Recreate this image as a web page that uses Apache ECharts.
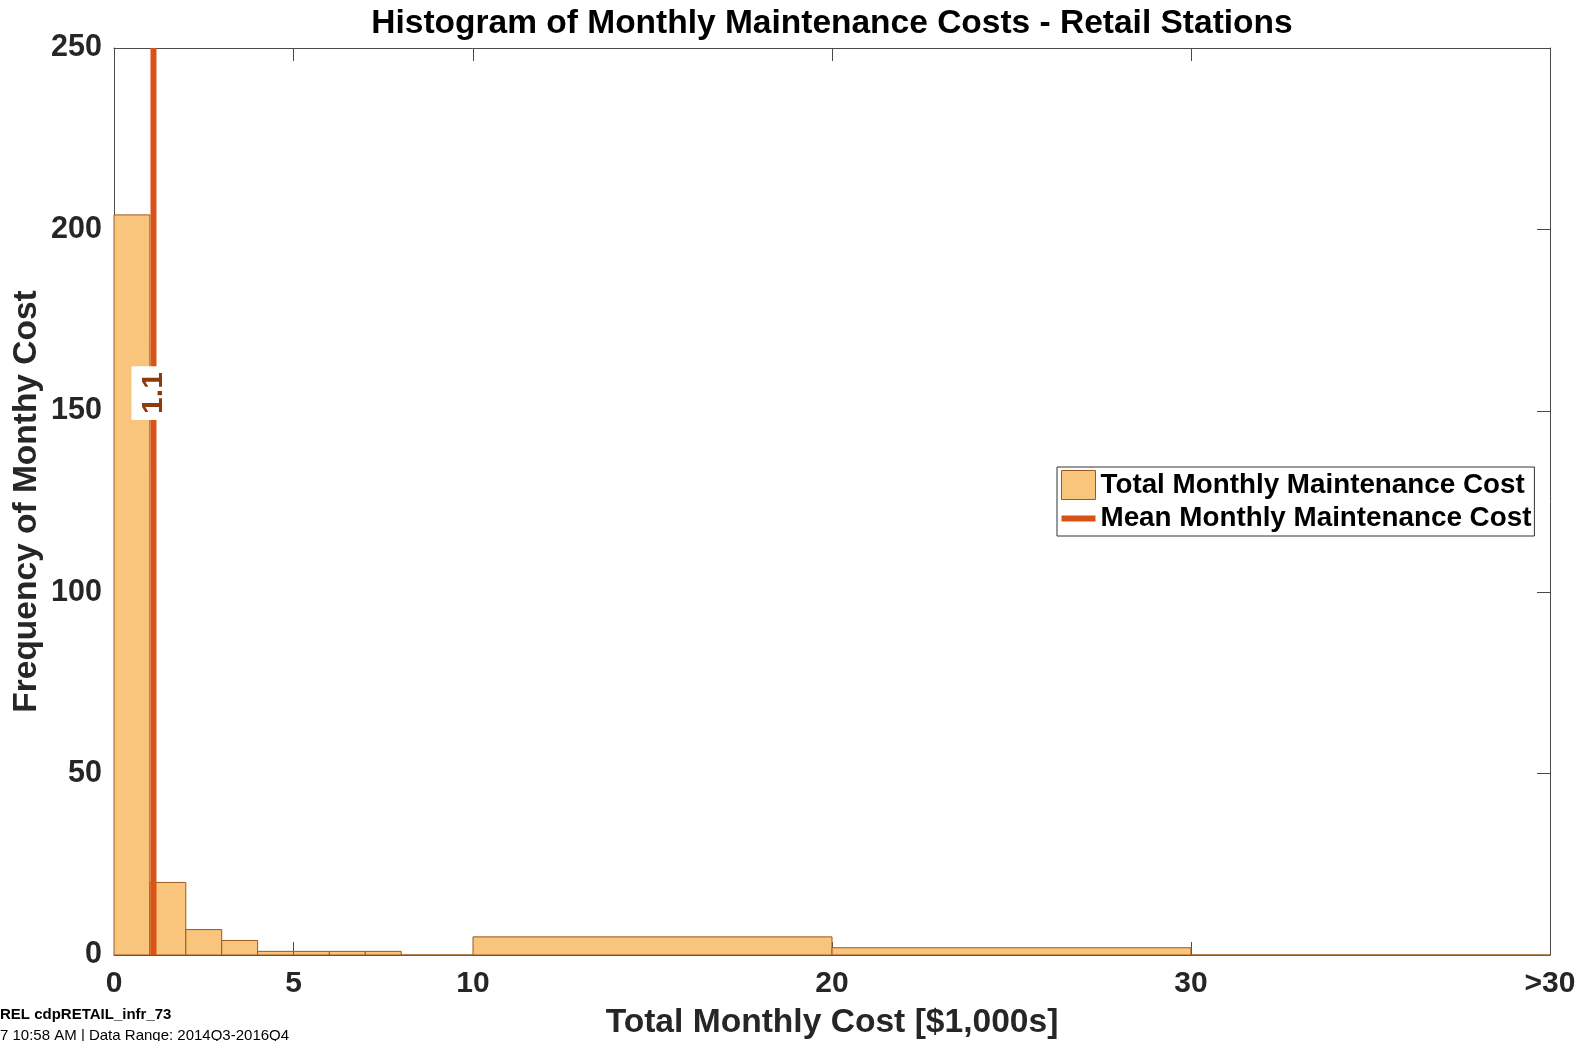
<!DOCTYPE html>
<html><head><meta charset="utf-8">
<script src="https://cdn.jsdelivr.net/npm/echarts@6/dist/echarts.min.js"></script>
<style>html,body{margin:0;padding:0;background:#fff}#c{width:1590px;height:1041px}</style>
</head><body><div id="c"></div>
<script>
// ---- data ----
const binStarts = [0, 1, 2, 3, 4, 5, 6, 7, 8, 9, 10, 20, 30];
const binEnds   = [1, 2, 3, 4, 5, 6, 7, 8, 9, 10, 20, 30, 40];
const binCounts = [204, 20, 7, 4, 1, 1, 1, 1, 0, 0, 5, 2, 0];
const meanCost = 1.1;
const meanLabel = '1.1';
const xTickValues = [0, 5, 10, 20, 30, 40];
const xTickLabels = ['0', '5', '10', '20', '30', '>30'];
const yMin = 0, yMax = 250, yStep = 50;
const seriesNames = ['Total Monthly Maintenance Cost', 'Mean Monthly Maintenance Cost'];

const FONT = "'Liberation Sans', Arial, Helvetica, sans-serif";
const barFill = '#F9C47C', barEdge = '#9B5A1E', meanColor = '#D95319', axisColor = '#4a4a4a';

const histData = binStarts.map((s, i) => [s, binEnds[i], binCounts[i]]);

const chart = echarts.init(document.getElementById('c'), null, {renderer: 'canvas'});
const xBase = {
  type: 'value', min: 0, max: 40, interval: 5,
  splitLine: {show: false},
  axisLine: {show: true, onZero: false, lineStyle: {color: axisColor, width: 1}},
  axisTick: {show: true, inside: true, length: 13, customValues: xTickValues, lineStyle: {color: axisColor}}
};
const yBase = {
  type: 'value', min: yMin, max: yMax, interval: yStep,
  splitLine: {show: false},
  axisLine: {show: true, onZero: false, lineStyle: {color: axisColor, width: 1}},
  axisTick: {show: true, inside: true, length: 13, lineStyle: {color: axisColor}}
};
chart.setOption({
  animation: false,
  backgroundColor: '#fff',
  title: {
    text: 'Histogram of Monthly Maintenance Costs - Retail Stations',
    left: 832, top: 7, textAlign: 'center', padding: 0,
    textStyle: {fontFamily: FONT, fontSize: 33.5, fontWeight: 'bold', color: '#000'}
  },
  grid: {left: 114, right: 40, top: 48, bottom: 86, containLabel: false, outerBoundsMode: 'none'},
  xAxis: [
    Object.assign({}, xBase, {
      position: 'bottom',
      name: 'Total Monthly Cost [$1,000s]', nameLocation: 'middle', nameGap: 51,
      nameMoveOverlap: false,
      nameTextStyle: {fontFamily: FONT, fontSize: 33.6, fontWeight: 'bold', color: '#262626'},
      axisLabel: {show: true, customValues: xTickValues, margin: 14,
        formatter: v => xTickLabels[xTickValues.indexOf(v)],
        fontFamily: FONT, fontSize: 30, fontWeight: 'bold', color: '#262626'}
    }),
    Object.assign({}, xBase, {position: 'top', axisLabel: {show: false}})
  ],
  yAxis: [
    Object.assign({}, yBase, {
      position: 'left',
      name: 'Frequency of Monthy Cost', nameLocation: 'middle', nameGap: 70,
      nameMoveOverlap: false,
      nameTextStyle: {fontFamily: FONT, fontSize: 33.5, fontWeight: 'bold', color: '#262626'},
      axisLabel: {show: true, margin: 12, fontFamily: FONT, fontSize: 30.5, fontWeight: 'bold', color: '#262626'}
    }),
    Object.assign({}, yBase, {position: 'right', axisLabel: {show: false}})
  ],
  legend: {
    orient: 'vertical', left: 1057, top: 467,
    padding: [3, 3, 3, 4], itemGap: 4, itemWidth: 34, itemHeight: 29,
    symbolKeepAspect: true,
    backgroundColor: '#fff', borderColor: '#333', borderWidth: 1, borderRadius: 0,
    textStyle: {fontFamily: FONT, fontSize: 27.8, fontWeight: 'bold', color: '#000', lineHeight: 29},
    data: [
      {name: seriesNames[0], icon: 'rect', itemStyle: {color: barFill, borderColor: barEdge, borderWidth: 1}},
      {name: seriesNames[1], icon: 'path://M0,0 L34,0 L34,6 L0,6 Z', itemStyle: {color: meanColor, borderWidth: 0}}
    ]
  },
  series: [
    {
      name: seriesNames[0], type: 'custom', xAxisIndex: 0, yAxisIndex: 0,
      itemStyle: {color: barFill, borderColor: barEdge, borderWidth: 1},
      encode: {x: [0, 1], y: 2},
      data: histData,
      z: 2,
      renderItem: function (params, api) {
        const p0 = api.coord([api.value(0), api.value(2)]);
        const p1 = api.coord([api.value(1), 0]);
        return {
          type: 'rect',
          shape: {x: p0[0], y: p0[1], width: p1[0] - p0[0], height: p1[1] - p0[1]},
          style: {fill: barFill, stroke: barEdge, lineWidth: 1}
        };
      }
    },
    {
      name: seriesNames[1], type: 'line', xAxisIndex: 0, yAxisIndex: 0,
      data: [[meanCost, yMin], [meanCost, yMax]],
      symbol: 'none', showSymbol: false, z: 3,
      itemStyle: {color: meanColor},
      lineStyle: {color: meanColor, width: 6, cap: 'butt'}
    },
    {
      name: 'meanLabel', type: 'scatter', xAxisIndex: 0, yAxisIndex: 0,
      data: [[meanCost, 156]], symbolSize: 0, z: 4, silent: true,
      itemStyle: {opacity: 1},
      label: {
        show: true, position: 'inside', rotate: 90, offset: [-4, 0], opacity: 1,
        formatter: meanLabel,
        fontFamily: FONT, fontSize: 30, fontWeight: 'bold', color: '#8E3A0C',
        backgroundColor: '#ffffff', padding: [12, 6, 2, 6]
      }
    }
  ],
  graphic: [
    {type: 'text', left: 0, top: 1007, style: {text: 'REL cdpRETAIL_infr_73', font: 'bold 15px ' + FONT, fill: '#000'}},
    {type: 'text', left: 0, top: 1028, style: {text: '7 10:58 AM | Data Range: 2014Q3-2016Q4', font: '15px ' + FONT, fill: '#000'}}
  ]
});
</script></body></html>
